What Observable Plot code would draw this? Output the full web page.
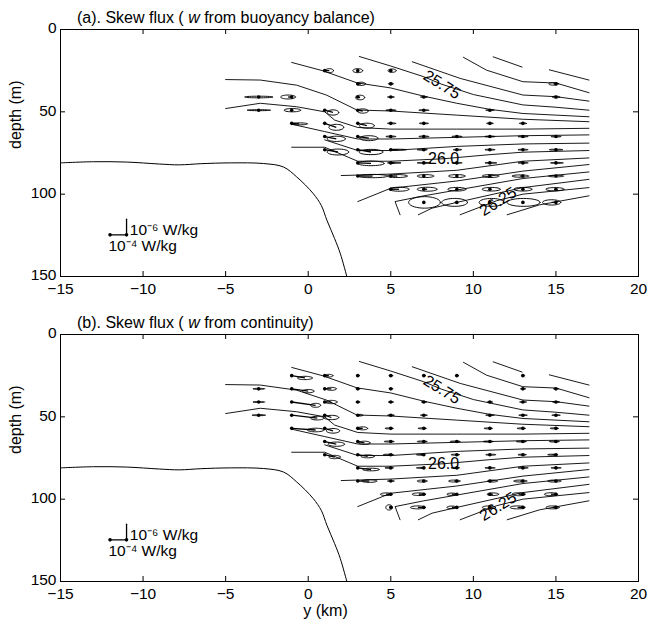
<!DOCTYPE html>
<html><head><meta charset="utf-8">
<script src="https://cdn.jsdelivr.net/npm/d3@7"></script>
<script src="https://cdn.jsdelivr.net/npm/@observablehq/plot@0.6"></script>
<style>
body{margin:0;background:#fff;}
#wrap{position:relative;width:648px;height:623px;font-family:"Liberation Sans",Arial,Helvetica,sans-serif;}
.title{position:absolute;left:77px;font-size:16px;line-height:16px;white-space:nowrap;color:#000;}
#wrap svg{display:block;}
</style></head><body><div id="wrap"></div>
<script>
// ---- axes ----
const xTicks = [-15, -10, -5, 0, 5, 10, 15, 20];
const xInner = [-10, -5, 0, 5, 10, 15];
const yTicks = [0, 50, 100, 150];
const yInner = [50, 100];

// ---- isopycnal contours (y km, depth m), same in both panels ----
const isopycnals = [
  [[11.2,16.6],[12.95,22.8]],
  [[14.6,24.5],[17,30.7]],
  [[9.4,16.9],[10.8,24.7],[13,31.7],[15,32.5],[17,38.4]],
  [[6.3,19.6],[9.2,29.7],[13,39.8],[15,40.8],[17,43.5]],
  [[3.1,16.4],[5,22.2],[7,28.7],[8.1,33.3],[10,39.5],[13,45.8],[15,47.2],[17,49]],
  [[-1,20],[0.9,25.1],[2.95,32.4],[5,35.5],[7,40.5],[9,44.8],[11,48.5],[13,51],[17,53]],
  [[-5,30.4],[-2.9,30.7],[-0.7,33.8],[1.1,39.8],[2.95,48.9],[5,49.5],[9,52],[13,54.5],[17,56]],
  [[-5,48],[-2.9,44.8],[-0.7,46.9],[1.0,50],[1.6,55],[3,59.5],[5,60.5],[9,60.5],[13,60.5],[17,60]],
  [[-1,57.5],[1,62],[3,66.5],[5,66.5],[9,65.5],[13,64.5],[17,64]],
  [[1,67],[3,73.5],[5,73.5],[9,71],[13,69.5],[17,69]],
  [[-1,71.5],[1,71.5],[3,80],[5,80],[8.2,78.5],[11,76],[13,74.5],[17,73.5]],
  [[2,88.7],[5,87.8],[9,85.5],[13,80],[17,78]],
  [[3,104.5],[5,96.4],[9,92],[13,86],[17,82]],
  [[5.56,112.5],[5.26,104.5],[7,101],[9,97.5],[13,90.5],[17,86.5]],
  [[6.67,112.5],[7.5,108.5],[9,105],[13,96],[17,91]],
  [[9.2,112.5],[11.4,104],[13,100],[17,96]],
  [[12.05,112.5],[14,106.5],[17,101]]
];
const bathymetry = [[-15,81],[-13,80.3],[-11,80.5],[-9,81.7],[-7.8,82.2],[-6.5,81.5],[-4.7,81],[-2.7,81.4],[-1.5,83.5],[-0.7,89.5],[0.3,99.6],[0.8,107],[1.13,115.8],[1.6,127],[1.94,136],[2.34,150]];

// contour labels
const labelText = ["25.75", "26.0", "26.25"];
const labelX = [8.1, 8.2, 11.5];
const labelD = [33.5, 78.8, 104.5];
const labelAngle = [32, 0, -32];

// ---- skew flux: [y, depth, tip dx (km), tip dz (m), ellipse rx (km), ellipse rz (m)] ----
const fluxA = [
  [1,25,0.28,0,0.25,1.2],[3,25,0,0,0.3,1.2],[5,25,0.08,0,0.25,1.0],
  [3,33,0.2,0,0.27,1.0],[5,33,0,0,0.15,0.5],[15,33,-0.14,0,0.3,0.8],
  [-3,41,0,0,0.85,0.5],[-1,41,-0.22,0,0.45,1.2],[3,41,0.14,0.3,0.28,1.4],[5,41,0,0,0.2,0.3],[7,41,0,0,0.2,0.3],[15,41,0,0,0.22,0.5],
  [-3,49,0,0,0.7,0.3],[-1,49,0.04,0,0.5,1.0],[1,49,0.5,1.4,0.35,1.6],[3,49,0.3,0.5,0.33,1.3],[5,49,0,0,0.3,0.3],[7,49,0,0,0.3,0.3],[11,49,0,0,0.25,0.3],
  [-1,57,0.45,0.3,0.5,0.6],[1,57,0.7,2.4,0.45,1.8],[3,57,0.55,1.4,0.45,1.5],[5,57,0.05,0,0.25,0.3],[7,57,0,0,0.27,0.3],[11,57,0,0,0.2,0.3],[13,57,0,0,0.22,0.3],
  [1,65,0.7,1.4,0.55,1.6],[3,65,0.67,1,0.55,1.5],[5,65,0,0,0.3,0.3],[7,65,0,0,0.3,0.3],[9,65,0,0,0.3,0.3],[11,65,0,0,0.3,0.3],[13,65,0,0,0.3,0.3],[15,65,0,0,0.3,0.3],
  [1,73,0.8,1.4,0.65,1.8],[3,73,0.8,1.4,0.72,1.6],[5,73,0.42,0,0.5,0.3],[7,73,-0.1,0,0.3,0.3],[9,73,0.03,0,0.25,0.3],[11,73,0,0,0.3,0.3],[13,73,0,0,0.3,0.3],[15,73,0,0,0.4,0.3],
  [3,81,0.8,0.3,0.8,1.4],[5,81,0.2,0,0.4,0.3],[7,81,0,0,0.4,0.3],[9,81,0,0,0.3,0.3],[11,81,0.05,0,0.35,0.3],[13,81,0,0,0.3,0.3],[15,81,0.05,0,0.38,0.3],
  [3,89,0.9,0,0.9,1.0],[5,89,0.4,0,0.6,0.9],[7,89,0.1,0,0.5,0.9],[9,89,0,0,0.5,0.9],[11,89,0.04,0,0.5,0.9],[13,89,-0.16,0,0.5,0.7],[15,89,0,0,0.45,0.5],
  [5,97,0.5,0,0.6,1.2],[7,97,0.2,0,0.6,1.2],[9,97,0,0,0.55,1.1],[11,97,0.08,0,0.55,1.1],[13,97,0,0,0.55,1.1],[15,97,-0.06,0,0.55,1.0],
  [7,105,0.04,0,0.96,3.5],[9,105,-0.14,0,0.78,2.4],[11,105,0.1,0,0.75,2.4],[13,105,0.04,0,1.0,2.4],[15,105,-0.26,0,0.55,1.6]
];
const fluxB = [
  [-1,25,0.8,1.4,0.45,1.0],[1,25,0.25,0,0.25,0.8],[3,25,0,0,0.1,0.3],[5,25,0,0,0.12,0.3],[7,25,0,0,0.1,0.3],[9,25,0,0,0.1,0.3],[13,25,0,0,0.1,0.3],
  [-3,33,0,0,0.35,0.3],[-1,33,1.0,1.4,0.35,1.0],[1,33,0.4,0,0.3,0.9],[3,33,0,0,0.12,0.3],[5,33,0,0,0.12,0.3],[13,33,0,0,0.15,0.3],[15,33,0,0,0.15,0.3],
  [-3,41,0,0,0.35,0.3],[-1,41,1.45,2,0.3,1.2],[1,41,0.4,0,0.35,1.0],[3,41,0,0,0.12,0.3],[5,41,0,0,0.15,0.3],[7,41,0,0,0.15,0.3],[11,41,0,0,0.15,0.3],[13,41,0,0,0.2,0.3],[15,41,0,0,0.2,0.3],
  [-3,49,0,0,0.4,0.3],[-1,49,1.55,1.8,0.4,1.1],[1,49,0.4,1.4,0.45,1.3],[3,49,0.15,0,0.15,0.5],[5,49,0,0,0.2,0.3],[7,49,0,0,0.2,0.3],[11,49,0,0,0.25,0.3],[13,49,0,0,0.25,0.3],[15,49,0,0,0.25,0.3],
  [-1,57,1.45,1,0.5,1.1],[1,57,0.5,1.5,0.4,1.4],[3,57,0.3,0,0.3,0.9],[5,57,-0.1,0,0.25,0.3],[7,57,-0.1,0,0.25,0.3],[11,57,-0.1,0,0.25,0.3],[13,57,-0.1,0,0.25,0.3],[15,57,-0.1,0,0.25,0.3],
  [1,65,0.7,1.6,0.5,1.3],[3,65,0.4,0.8,0.35,1.0],[5,65,-0.1,0,0.3,0.3],[7,65,-0.1,0,0.3,0.3],[9,65,-0.1,0,0.3,0.3],[11,65,-0.1,0,0.3,0.3],[13,65,-0.1,0,0.3,0.3],[15,65,-0.1,0,0.3,0.3],
  [1,73,0.6,1.4,0.35,1.0],[3,73,0.6,1,0.4,0.9],[5,73,-0.15,0,0.3,0.3],[7,73,-0.2,0,0.25,0.3],[9,73,-0.1,0,0.25,0.3],[11,73,0.05,0,0.3,0.3],[13,73,-0.05,0,0.25,0.3],[15,73,-0.2,0,0.3,0.3],
  [3,81,0.8,1,0.5,0.8],[5,81,-0.1,0,0.25,0.3],[7,81,-0.2,0,0.25,0.3],[9,81,-0.1,0,0.25,0.3],[11,81,0,0,0.3,0.3],[13,81,0,0,0.3,0.3],[15,81,0,0,0.3,0.3],
  [3,89,0.7,0,0.45,0.8],[5,89,0,0,0.2,0.3],[7,89,-0.1,0,0.3,0.6],[9,89,-0.15,0,0.35,0.6],[11,89,0.15,0,0.3,0.6],[13,89,-0.16,0,0.4,0.6],[15,89,-0.1,0,0.4,0.6],
  [5,97,-0.28,0,0.35,0.8],[7,97,-0.3,0,0.4,0.8],[9,97,-0.3,0,0.3,0.7],[11,97,0.18,0,0.35,0.8],[13,97,-0.26,0,0.4,0.9],[15,97,-0.3,0,0.4,0.9],
  [5,105,-0.1,0,0.2,1.6],[7,105,-0.36,0,0.45,0.9],[9,105,-0.3,0,0.3,0.8],[11,105,-0.06,0,0.4,0.9],[13,105,-0.32,0,0.45,0.9],[15,105,-0.2,0,0.4,0.9]
];

// ---- scale legend ----
const legendH = [[-12,124.7],[-11,124.7]];
const legendV = [[-11,124.7],[-11,115.2]];
const legendText = ["10\u207B\u2076 W/kg", "10\u207B\u2074 W/kg"];
const legendTextX = [-10.8, -12.1];
const legendTextD = [121.5, 131.5];

const titles = ["(a). Skew flux ( <i>w</i> from buoyancy balance)", "(b). Skew flux ( <i>w</i> from continuity)"];

// ---- helpers ----
const fmt = d => d < 0 ? "\u2212" + (-d) : String(d);
const FONT = '"Liberation Sans", Arial, Helvetica, sans-serif';
function flatten(lines) {
  const out = [];
  lines.forEach((l, i) => l.forEach(p => out.push({i, x: p[0], y: p[1]})));
  return out;
}
function ellipsePts(flux) {
  const out = [];
  flux.forEach((p, i) => {
    const cx = p[0] + p[2], cy = p[1] + p[3];
    for (let k = 0; k <= 36; k++) {
      const t = 2 * Math.PI * k / 36;
      out.push({i, x: cx + p[4] * Math.cos(t), y: cy + p[5] * Math.sin(t)});
    }
  });
  return out;
}

function panel(flux, height, marginBottom, showXLabel) {
  const plotH = height - 29 - marginBottom;
  const plotW = 648 - 60 - 10;
  const contourData = flatten(isopycnals);
  const marks = [
    Plot.line(contourData, {x: "x", y: "y", z: "i", stroke: "black", strokeWidth: 0.9}),
    Plot.line(bathymetry, {x: d => d[0], y: d => d[1], stroke: "black", strokeWidth: 1, curve: "catmull-rom"}),
    Plot.link(flux.filter(p => p[2] !== 0 || p[3] !== 0), {x1: d => d[0], y1: d => d[1], x2: d => d[0] + d[2], y2: d => d[1] + d[3], stroke: "black", strokeWidth: 1.3}),
    Plot.line(ellipsePts(flux), {x: "x", y: "y", z: "i", stroke: "black", strokeWidth: 0.95}),
    Plot.dot(flux, {x: d => d[0], y: d => d[1], r: 1.8, fill: "black", stroke: null}),
    Plot.text(labelText, {x: (d, i) => labelX[i], y: (d, i) => labelD[i], rotate: (d, i) => labelAngle[i], text: d => d, fontSize: 16, fill: "black", textAnchor: "middle"}),
    // legend
    Plot.line(legendH, {x: d => d[0], y: d => d[1], stroke: "black", strokeWidth: 1.3}),
    Plot.line(legendV, {x: d => d[0], y: d => d[1], stroke: "black", strokeWidth: 1.3}),
    Plot.dot(legendH, {x: d => d[0], y: d => d[1], r: 1.8, fill: "black"}),
    Plot.text(legendText, {x: (d, i) => legendTextX[i], y: (d, i) => legendTextD[i], text: d => d, textAnchor: "start", fontSize: 15.5, fill: "black"}),
    // frame and inward ticks
    Plot.frame({stroke: "black", strokeWidth: 1}),
    Plot.tickX(xInner, {x: d => d, insetTop: plotH - 5, stroke: "black"}),
    Plot.tickX(xInner, {x: d => d, insetBottom: plotH - 5, stroke: "black"}),
    Plot.tickY(yInner, {y: d => d, insetRight: plotW - 5, stroke: "black"}),
    Plot.tickY(yInner, {y: d => d, insetLeft: plotW - 5, stroke: "black"}),
    Plot.axisX({ticks: xTicks, tickSize: 0, tickPadding: 6, tickFormat: fmt, label: null, fontSize: 15.5}),
    Plot.axisY({ticks: yTicks, tickSize: 0, tickPadding: 4, tickFormat: fmt, label: null, fontSize: 15.5, dy: -1}),
    Plot.text(["depth (m)"], {frameAnchor: "left", text: d => d, rotate: -90, dx: -45, dy: -4, fontSize: 16, fill: "black"})
  ];
  if (showXLabel) marks.push(Plot.text(["y (km)"], {frameAnchor: "bottom", text: d => d, dx: -24, dy: 34, fontSize: 16, fill: "black"}));
  return Plot.plot({
    width: 648, height,
    marginLeft: 60, marginRight: 10, marginTop: 29, marginBottom,
    x: {domain: [-15, 20]},
    y: {domain: [0, 150], reverse: true},
    style: {fontFamily: FONT, fontSize: "16px", color: "black", background: "white", overflow: "visible"},
    marks
  });
}

const wrap = document.getElementById("wrap");
wrap.appendChild(panel(fluxA, 305, 29, false));
wrap.appendChild(panel(fluxB, 318, 42, true));
[10, 315].forEach((top, i) => {
  const t = document.createElement("div");
  t.className = "title";
  t.style.top = top + "px";
  t.innerHTML = titles[i];
  wrap.appendChild(t);
});
</script></body></html>
